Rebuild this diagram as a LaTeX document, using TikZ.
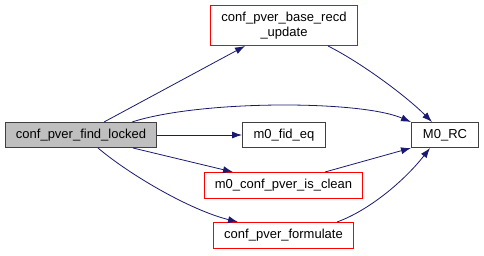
\documentclass[tikz,border=0pt]{standalone}
\usepackage{fontspec}
\setmainfont{Liberation Sans}
\usetikzlibrary{arrows.meta,calc}
\definecolor{edgeblue}{HTML}{191970}
\definecolor{boxgray}{HTML}{404040}
\definecolor{boxfill}{HTML}{BFBFBF}
\definecolor{boxred}{HTML}{FF0000}
\begin{document}
\begin{tikzpicture}[x=1pt,y=-1pt,
  fnbox/.style={draw=boxgray,line width=1pt,fill=white,inner sep=0pt,
    font=\fontsize{13}{15}\selectfont,align=center},
  redbox/.style={fnbox,draw=boxred},
  rootbox/.style={fnbox,fill=boxfill},
  call/.style={draw=edgeblue,line width=0.8pt,-{Latex[length=10pt,width=7pt]}}]
\useasboundingbox (0,0) rectangle (484,255);

% functions
\node[rootbox,minimum width=151pt,minimum height=25pt] (find) at (81,135) {conf\_pver\_find\_locked};
\node[redbox,minimum width=147pt,minimum height=40pt] (base) at (284,25.5) {conf\_pver\_base\_recd\\\_update};
\node[fnbox,minimum width=83pt,minimum height=25pt] (fid) at (284,135) {m0\_fid\_eq};
\node[fnbox,minimum width=67pt,minimum height=25pt] (rc) at (445,135) {M0\_RC};
\node[redbox,minimum width=158pt,minimum height=26pt] (isclean) at (283.5,185.5) {m0\_conf\_pver\_is\_clean};
\node[redbox,minimum width=140pt,minimum height=26pt] (form) at (283.5,235.5) {conf\_pver\_formulate};

% calls
\draw[call] (find.north -| 104,0) -- (base.south -| 245,0);
\draw[call] (find.north -| 132,0) .. controls (200,100) and (360,100) .. (rc.north west);
\draw[call] (find.east) -- (fid.west);
\draw[call] (find.south -| 133,0) -- (isclean.north -| 233,0);
\draw[call] (find.south -| 98,0) .. controls (130,175) and (190,210) .. (form.north -| 238,0);
\draw[call] (base.south -| 328,0) .. controls (360,62) and (405,95) .. (rc.north -| 432,0);
\draw[call] (isclean.north -| 325,0) -- (rc.south west);
\draw[call] (form.north -| 337,0) .. controls (370,210) and (405,180) .. (rc.south -| 430,0);
\end{tikzpicture}
\end{document}
